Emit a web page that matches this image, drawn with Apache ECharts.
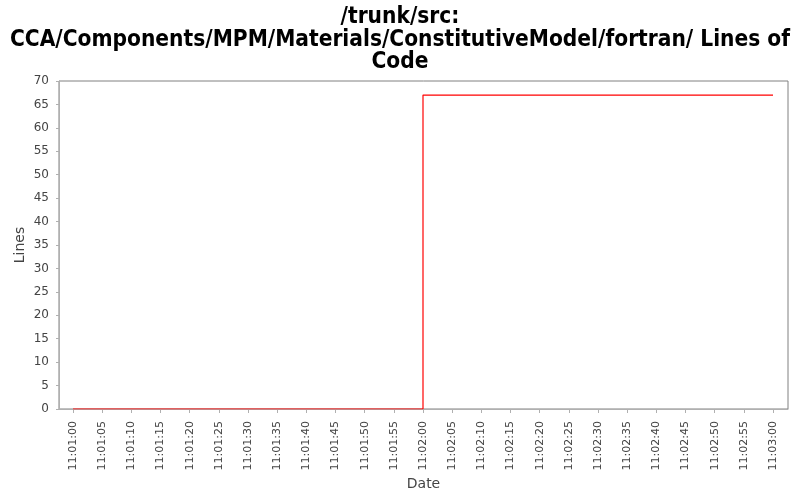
<!DOCTYPE html>
<html>
<head>
<meta charset="utf-8">
<script src="https://cdn.jsdelivr.net/npm/echarts@6/dist/echarts.min.js"></script>
<style>
  html, body { margin: 0; padding: 0; background: #fff; }
  #chart { width: 800px; height: 500px; }
</style>
</head>
<body>
<div id="chart"></div>
<script>
// chart data
const titleText = '/trunk/src:\nCCA/Components/MPM/Materials/ConstitutiveModel/fortran/ Lines of\nCode';
const pointTimes = ['11:01:00', '11:02:00', '11:03:00'];
const lineCounts = [0, 67, 67];
const axisStart = '11:01:00';
const axisEnd = '11:03:00';
const tickStepSec = 5;
const yMax = 70;
const yStep = 5;

// hh:mm:ss -> seconds
const toSec = (t) => {
  const p = t.split(':').map(Number);
  return p[0] * 3600 + p[1] * 60 + p[2];
};
const base = toSec(axisStart);
const pad = (n) => (n < 10 ? '0' : '') + n;
const fmtSec = (v) => {
  const s = base + v;
  return Math.floor(s / 3600) + ':' + pad(Math.floor(s / 60) % 60) + ':' + pad(s % 60);
};

const seriesData = pointTimes.map((t, i) => [toSec(t) - base, lineCounts[i]]);

const font = 'DejaVu Sans';
const chart = echarts.init(document.getElementById('chart'));

chart.setOption({
  animation: false,
  backgroundColor: '#fff',
  title: {
    text: titleText,
    left: 'center',
    top: 1,
    textStyle: {
      fontFamily: 'DejaVu Sans Condensed',
      fontWeight: 'bold',
      fontSize: 22.5,
      lineHeight: 22.5,
      color: '#000'
    }
  },
  grid: [
    // frame of the plot
    { left: 59, right: 12, top: 81, bottom: 91, show: true, borderColor: '#808080', borderWidth: 1, backgroundColor: '#fff' },
    // data area, inset from the frame
    { left: 73, right: 27, top: 81, bottom: 91 }
  ],
  xAxis: [
    {
      gridIndex: 0, type: 'value', min: 0, max: 1, offset: 4,
      axisLine: { show: true, lineStyle: { color: '#b0b0b0' } },
      axisTick: { show: false }, axisLabel: { show: false }, splitLine: { show: false },
      name: 'Date', nameLocation: 'middle', nameGap: 64, nameMoveOverlap: false,
      nameTextStyle: { fontFamily: font, fontSize: 14, color: '#444' }
    },
    {
      gridIndex: 1, type: 'value', min: 0, max: toSec(axisEnd) - base, interval: tickStepSec, offset: 4,
      axisLine: { show: false },
      axisTick: { show: true, length: 4, lineStyle: { color: '#b0b0b0' } },
      axisLabel: { rotate: 90, margin: 8, formatter: fmtSec, fontFamily: font, fontSize: 11, color: '#444' },
      splitLine: { show: false }
    }
  ],
  yAxis: [
    {
      gridIndex: 0, type: 'value', min: 0, max: yMax, interval: yStep, offset: 4,
      axisLine: { show: true, lineStyle: { color: '#b0b0b0' } },
      axisTick: { show: true, length: 3, lineStyle: { color: '#b0b0b0' } },
      axisLabel: { margin: 6, fontFamily: font, fontSize: 12, color: '#444' },
      splitLine: { show: false },
      name: 'Lines', nameLocation: 'middle', nameGap: 28, nameMoveOverlap: false,
      nameTextStyle: { fontFamily: font, fontSize: 14, color: '#444' }
    },
    { gridIndex: 1, type: 'value', min: 0, max: yMax, show: false, splitLine: { show: false } }
  ],
  series: [
    {
      type: 'line',
      xAxisIndex: 1,
      yAxisIndex: 1,
      step: 'end',
      showSymbol: false,
      data: seriesData,
      lineStyle: { color: '#ff0000', width: 1.2 },
      itemStyle: { color: '#ff0000' }
    }
  ]
});
</script>
</body>
</html>
